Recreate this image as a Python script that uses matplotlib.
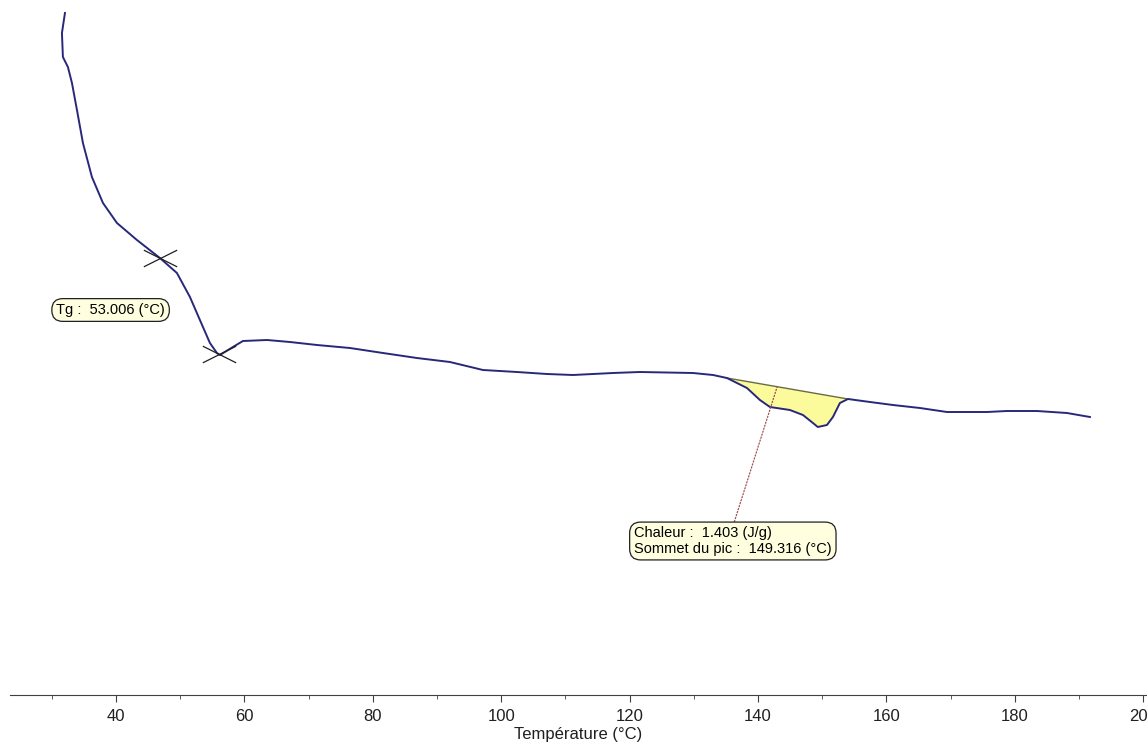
import numpy as np
import matplotlib
matplotlib.use("Agg")
import matplotlib.pyplot as plt
from matplotlib.path import Path

plt.rcParams['font.family'] = ['Liberation Sans', 'DejaVu Sans']

# DSC curve (temperature in °C, heat flow in arbitrary units)
temperature = [32.06, 31.59, 31.74, 32.52, 33.15, 33.93, 34.86, 36.26, 37.98, 40.16,
               43.27, 46.85, 49.50, 51.53, 53.08, 54.64, 55.73, 56.20, 58.22, 59.78,
               63.52, 67.10, 71.31, 76.45, 81.59, 86.88, 92.02, 97.17, 102.46, 107.13,
               111.18, 117.41, 121.62, 129.88, 133.00, 135.17, 138.29, 140.31, 141.87, 144.98,
               147.01, 148.57, 149.32, 150.75, 151.68, 152.77, 154.02, 157.45, 161.03, 165.23,
               169.44, 175.67, 178.79, 183.46, 188.13, 191.71]
heat_flow = [6.87, 6.67, 6.43, 6.33, 6.17, 5.90, 5.57, 5.23, 4.97, 4.77,
             4.60, 4.42, 4.27, 4.03, 3.80, 3.57, 3.47, 3.45, 3.53, 3.59,
             3.60, 3.58, 3.55, 3.52, 3.47, 3.42, 3.38, 3.30, 3.28, 3.26,
             3.25, 3.27, 3.28, 3.27, 3.25, 3.22, 3.12, 3.00, 2.93, 2.90,
             2.85, 2.77, 2.73, 2.75, 2.83, 2.97, 3.01, 2.98, 2.95, 2.92,
             2.88, 2.88, 2.89, 2.89, 2.87, 2.83]

tg_marks = [46.9, 56.0]          # onset / end of glass transition
tg_value = 53.006
peak_limits = [135.17, 154.02]   # integration baseline ends
heat_value = 1.403
peak_top = 149.316
leader_at = 143.0                # where the dotted leader touches the baseline

T = np.array(temperature)
H = np.array(heat_flow)

fig = plt.figure(figsize=(11.47, 7.48), dpi=100)
ax = fig.add_axes([10 / 1147, 53 / 748, 1 - 10 / 1147, 1 - 53 / 748])
ax.set_xlim(23.5, 200.6)
ax.set_ylim(0.05, 7.0)

# integrated peak
h0, h1 = np.interp(peak_limits, T, H)
sel = (T >= peak_limits[0]) & (T <= peak_limits[1])
Tp = T[sel]
base = h0 + (h1 - h0) * (Tp - peak_limits[0]) / (peak_limits[1] - peak_limits[0])
ax.fill_between(Tp, H[sel], base, color='#fbfb9c', lw=0)
ax.plot(peak_limits, [h0, h1], color='#6b6b40', lw=1.0)

ax.plot(T, H, color='#28287a', lw=1.4)

# flat X markers for Tg
xmark = Path([(-1, -0.5), (1, 0.5), (-1, 0.5), (1, -0.5)],
             [Path.MOVETO, Path.LINETO, Path.MOVETO, Path.LINETO])
ax.plot(tg_marks, np.interp(tg_marks, T, H), ls='none', marker=xmark,
        ms=24, mec='#202020', mew=0.9)

box = dict(boxstyle='round,pad=0.3,rounding_size=0.75', fc='#ffffe0', ec='#202020', lw=0.9)
ax.text(30.7, 3.9, 'Tg :  %.3f (°C)' % tg_value, fontsize=10.5,
        ha='left', va='center', bbox=box)

lead_y = h0 + (h1 - h0) * (leader_at - peak_limits[0]) / (peak_limits[1] - peak_limits[0])
ax.annotate('Chaleur :  %.3f (J/g)\nSommet du pic :  %.3f (°C)' % (heat_value, peak_top),
            xy=(leader_at, lead_y), xytext=(120.7, 1.59), fontsize=10.5,
            ha='left', va='center', linespacing=1.1, bbox=box,
            arrowprops=dict(arrowstyle='-', ls=(0, (1, 1.5)), color='#a05050', lw=0.9,
                            shrinkA=0, shrinkB=0, relpos=(0.5, 1.0)))

for s in ['top', 'left', 'right']:
    ax.spines[s].set_visible(False)
ax.spines['bottom'].set_color('#404040')
ax.set_yticks([])
ax.set_xticks(np.arange(40, 201, 20))
ax.set_xticks(np.arange(30, 200, 20), minor=True)
ax.tick_params(axis='x', which='major', length=5, color='#404040', labelsize=12,
               labelcolor='#202020', pad=5)
ax.tick_params(axis='x', which='minor', length=3, color='#404040')
ax.set_xlabel('Température (°C)', fontsize=12, color='#202020', labelpad=2)

fig.savefig('out.png', dpi=100)
